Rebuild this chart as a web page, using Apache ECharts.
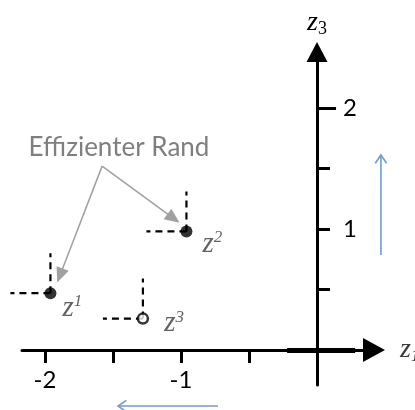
<!DOCTYPE html>
<html>
<head>
<meta charset="utf-8">
<script src="https://cdn.jsdelivr.net/npm/echarts@6/dist/echarts.min.js"></script>
<style>
  html, body { margin: 0; padding: 0; background: #fff; }
  #chart { width: 415px; height: 410px; }
</style>
</head>
<body>
<div id="chart"></div>
<script>
// Objective vectors: z1 on the horizontal axis, z3 on the vertical axis
const pointIds = ['1', '2', '3'];
const z1Values = [-1.96, -0.96, -1.28];
const z3Values = [0.47, 0.98, 0.26];
const isEfficient = [true, true, false];

// Axis ticks and labelled ticks
const xTickValues = [-2, -1.5, -1, -0.5];
const xTickLabels = [-2, -1];
const yTickValues = [0, 0.5, 1, 1.5, 2];
const yTickLabels = [1, 2];
const xRange = [-2.169, 0.419];
const yRange = [-0.289, 2.463];

// Callout "Effizienter Rand": arrows from a shared anchor towards z1 and z2
const calloutText = 'Effizienter Rand';
const calloutAnchor = [-1.58, 1.52];
const calloutTargets = [[-1.055, 1.088], [-1.89, 0.616]];

// Direction hints (increase z3, decrease z1): [fromX, fromY, toX, toY]
const trendArrows = [
  [0.47, 0.785, 0.47, 1.612],
  [-0.728, -0.463, -1.463, -0.463]
];

// Layout / style constants
const gridBox = { left: 22, right: 41, top: 52, bottom: 25 };
const labelOffsets = [[1, 15], [5, 13], [10, 5]];
const coneLength = 40;
const serif = '"Liberation Serif", "DejaVu Serif", serif';
const sans = 'Lato, "Open Sans", sans-serif';

const chart = echarts.init(document.getElementById('chart'), null, { renderer: 'canvas' });
const W = 415, H = 410;
const plotW = W - gridBox.left - gridBox.right;
const plotH = H - gridBox.top - gridBox.bottom;

// The axes cross at the origin: shift each axis from the grid edge onto the other's zero
const yAxisShift = -plotW * (0 - xRange[0]) / (xRange[1] - xRange[0]);
const xAxisShift = -plotH * (0 - yRange[0]) / (yRange[1] - yRange[0]);

const pointLabelRich = {
  z: { fontFamily: serif, fontStyle: 'italic', fontSize: 29, color: '#3a3a3a', lineHeight: 30 },
  s: { fontFamily: serif, fontStyle: 'italic', fontSize: 17, color: '#3a3a3a', lineHeight: 17, verticalAlign: 'top' }
};

const pointData = pointIds.map((id, i) => ({
  value: [z1Values[i], z3Values[i]],
  id: id,
  symbolSize: isEfficient[i] ? 12 : 10,
  itemStyle: isEfficient[i]
    ? { color: '#000', borderWidth: 0 }
    : { color: '#fff', borderColor: '#000', borderWidth: 2.5 },
  label: { offset: labelOffsets[i] }
}));

const option = {
  animation: false,
  backgroundColor: '#fff',
  grid: Object.assign({ containLabel: false, outerBoundsMode: 'none' }, gridBox),
  xAxis: {
    type: 'value',
    min: xRange[0],
    max: xRange[1],
    position: 'bottom',
    offset: xAxisShift,
    axisLine: {
      onZero: false,
      lineStyle: { color: '#000', width: 3 },
      symbol: ['none', 'triangle'],
      symbolSize: [24, 22]
    },
    axisTick: { show: true, customValues: xTickValues, length: 13, lineStyle: { color: '#000', width: 3 } },
    axisLabel: {
      show: true, customValues: xTickLabels, margin: 18,
      fontFamily: sans, fontSize: 24, color: '#000',
      formatter: v => String(v)
    },
    splitLine: { show: false },
    name: '{z|z}{s|1}',
    nameLocation: 'end',
    nameGap: 26,
    nameTextStyle: {
      rich: {
        z: { fontFamily: serif, fontStyle: 'italic', fontSize: 28, color: '#3a3a3a', lineHeight: 30 },
        s: { fontFamily: serif, fontStyle: 'italic', fontSize: 16, color: '#3a3a3a', lineHeight: 16, verticalAlign: 'bottom' }
      }
    }
  },
  yAxis: {
    type: 'value',
    min: yRange[0],
    max: yRange[1],
    position: 'left',
    offset: yAxisShift,
    axisLine: {
      onZero: false,
      lineStyle: { color: '#000', width: 3 },
      symbol: ['none', 'triangle'],
      symbolSize: [21, 20]
    },
    axisTick: { show: true, inside: true, customValues: yTickValues, length: 13, lineStyle: { color: '#000', width: 3 } },
    axisLabel: {
      show: true, inside: true, customValues: yTickLabels, margin: 26,
      fontFamily: sans, fontSize: 24, color: '#000',
      formatter: v => String(v)
    },
    splitLine: { show: false },
    name: '{z|z}{s|3}',
    nameLocation: 'end',
    nameGap: 14,
    nameTextStyle: {
      rich: {
        z: { fontFamily: serif, fontStyle: 'italic', fontSize: 28, color: '#000', lineHeight: 30 },
        s: { fontFamily: serif, fontSize: 18, color: '#000', lineHeight: 18, verticalAlign: 'bottom' }
      }
    }
  },
  graphic: [{
    type: 'text',
    x: 119, y: 148,
    style: {
      text: calloutText,
      fill: '#7f7f7f',
      font: '26px ' + sans,
      textAlign: 'center',
      textVerticalAlign: 'middle'
    }
  }],
  series: [
    {
      // dashed dominance cones drawn from each point to the left and upwards
      type: 'custom',
      clip: false,
      silent: true,
      data: pointIds.map((id, i) => [z1Values[i], z3Values[i]]),
      renderItem: (params, api) => {
        const p = api.coord([api.value(0), api.value(1)]);
        const style = { stroke: '#000', lineWidth: 2.2, lineDash: [7, 5], fill: null };
        return {
          type: 'group',
          children: [
            { type: 'line', shape: { x1: p[0], y1: p[1], x2: p[0] - coneLength, y2: p[1] }, style: style },
            { type: 'line', shape: { x1: p[0], y1: p[1], x2: p[0], y2: p[1] - coneLength }, style: style }
          ]
        };
      },
      z: 2
    },
    {
      // blue direction hints with open arrow heads
      type: 'custom',
      clip: false,
      silent: true,
      data: trendArrows,
      renderItem: (params, api) => {
        const a = api.coord([api.value(0), api.value(1)]);
        const b = api.coord([api.value(2), api.value(3)]);
        const ang = Math.atan2(b[1] - a[1], b[0] - a[0]);
        const hl = 10, hw = 0.6;
        const p1 = [b[0] - hl * Math.cos(ang - hw), b[1] - hl * Math.sin(ang - hw)];
        const p2 = [b[0] - hl * Math.cos(ang + hw), b[1] - hl * Math.sin(ang + hw)];
        const style = { stroke: '#6d9bd3', lineWidth: 1.6, fill: null };
        return {
          type: 'group',
          children: [
            { type: 'line', shape: { x1: a[0], y1: a[1], x2: b[0], y2: b[1] }, style: style },
            { type: 'polyline', shape: { points: [p1, b, p2] }, style: style }
          ]
        };
      }
    },
    {
      type: 'scatter',
      clip: false,
      symbol: 'circle',
      data: pointData,
      z: 5,
      label: {
        show: true,
        position: 'right',
        distance: 5,
        formatter: p => '{z|z}{s|' + p.data.id + '}',
        rich: pointLabelRich
      },
      emphasis: { disabled: true },
      markLine: {
        silent: true,
        symbol: ['none', 'none'],
        label: { show: false },
        emphasis: { disabled: true },
        data: [
          // heavier stretch of the z1 axis around the origin
          [{ coord: [-0.22, 0], lineStyle: { color: '#000', width: 5, type: 'solid' } }, { coord: [0.28, 0] }],
          // longer tick at z3 = 2
          [{ coord: [0, 2], lineStyle: { color: '#000', width: 3, type: 'solid' } }, { coord: [0.14, 2] }],
          // callout arrows
          ...calloutTargets.map(t => [
            { coord: calloutAnchor, symbol: 'none', lineStyle: { color: '#a0a0a0', width: 1.5, type: 'solid' } },
            { coord: t, symbol: 'triangle', symbolSize: [13, 15] }
          ])
        ]
      }
    }
  ]
};

chart.setOption(option);
</script>
</body>
</html>
